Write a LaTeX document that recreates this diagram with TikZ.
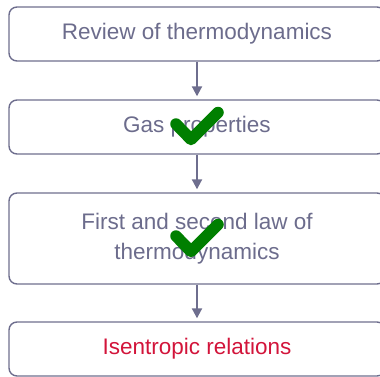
\documentclass[tikz,border=0pt]{standalone}
\usepackage{fontspec}
\setmainfont{Liberation Sans}
\usetikzlibrary{arrows.meta}
\definecolor{boxline}{HTML}{6E6E8E}
\definecolor{boxtext}{HTML}{6C6C8C}
\definecolor{todo}{HTML}{D2143A}
\definecolor{done}{HTML}{007F00}
\tikzset{
  topic/.style={draw=boxline, line width=1.4pt, rounded corners=8pt, minimum width=376pt,
    minimum height=54pt, inner sep=0pt, align=center, text=boxtext,
    font=\fontsize{22.5}{30}\selectfont},
  flow/.style={draw=boxline, line width=2pt, -{Triangle[width=10pt,length=10pt]}, shorten >=3pt},
  tick/.style={draw=done, line width=11.5pt, line cap=round, line join=round}
}
\begin{document}
\begin{tikzpicture}[x=1pt,y=-1pt]
        \useasboundingbox (0,0) rectangle (380,376);
        \clip (0,0) rectangle (380,376);
        \node[topic] (review) at (197,34) {Review of thermodynamics};
        \node[topic] (gas) at (197,127) {Gas properties};
        \node[topic, minimum height=91pt] (laws) at (197,238.5) {First and second law of\\thermodynamics};
        \node[topic, text=todo] (isen) at (197,349) {Isentropic relations};
        \draw[flow] (review) -- (gas);
        \draw[flow] (gas) -- (laws);
        \draw[flow] (laws) -- (isen);
        % ticks for finished topics
        \draw[tick] ([shift={(-21,-3)}]gas.center) -- ++(15,15.5) -- ++(27,-27);
        \draw[tick] ([shift={(-21,-2.5)}]laws.center) -- ++(15,15.5) -- ++(27,-27);
\end{tikzpicture}
\end{document}
